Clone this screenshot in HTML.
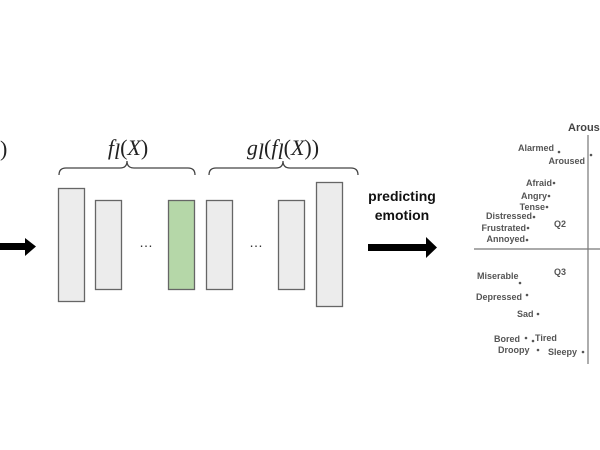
<!DOCTYPE html>
<html><head><style>
body{margin:0;background:#fff;}
svg{display:block}
.e{font-family:"Liberation Sans",sans-serif;font-weight:bold;font-size:9px;fill:#555;}
.m{font-family:"Liberation Serif",serif;font-style:italic;font-size:22px;fill:#222;}
.p{font-family:"Liberation Serif",serif;font-size:22px;fill:#222;}
</style></head><body>
<svg width="600" height="450" viewBox="0 0 600 450">
<text x="0" y="156" class="p">)</text>
<rect x="0" y="243" width="27" height="7" fill="#000"/>
<polygon points="25,238 36,246.5 25,256" fill="#000"/>
<path d="M59,175 Q59,168 66,168 L120,168 Q127,168 127,161 Q127,168 134,168 L188,168 Q195,168 195,175" fill="none" stroke="#444" stroke-width="1.3"/>
<path d="M209,175 Q209,168 216,168 L276,168 Q283,168 283,161 Q283,168 290,168 L351,168 Q358,168 358,175" fill="none" stroke="#444" stroke-width="1.3"/>
<text x="128" y="155" text-anchor="middle"><tspan class="m">f</tspan><tspan class="m" font-size="14" dy="4">l</tspan><tspan class="p" dy="-4">(</tspan><tspan class="m">X</tspan><tspan class="p">)</tspan></text>
<text x="283" y="155" text-anchor="middle"><tspan class="m">g</tspan><tspan class="m" font-size="14" dy="4">l</tspan><tspan class="p" dy="-4">(</tspan><tspan class="m">f</tspan><tspan class="m" font-size="14" dy="4">l</tspan><tspan class="p" dy="-4">(</tspan><tspan class="m">X</tspan><tspan class="p">))</tspan></text>
<g stroke="#666" stroke-width="1.3" fill="#ececec">
<rect x="58.5" y="188.5" width="26" height="113"/>
<rect x="95.5" y="200.5" width="26" height="89"/>
<rect x="168.5" y="200.5" width="26" height="89" fill="#b5d7a8"/>
<rect x="206.5" y="200.5" width="26" height="89"/>
<rect x="278.5" y="200.5" width="26" height="89"/>
<rect x="316.5" y="182.5" width="26" height="124"/>
</g>
<text x="146" y="247" text-anchor="middle" font-family="Liberation Sans" font-size="14" fill="#333">…</text>
<text x="256" y="247" text-anchor="middle" font-family="Liberation Sans" font-size="14" fill="#333">…</text>
<text x="402" y="201" text-anchor="middle" font-family="Liberation Sans" font-weight="bold" font-size="14" fill="#111">predicting</text>
<text x="402" y="220" text-anchor="middle" font-family="Liberation Sans" font-weight="bold" font-size="14" fill="#111">emotion</text>
<rect x="368" y="244" width="59" height="7" fill="#000"/>
<polygon points="426,237 437,247.5 426,258" fill="#000"/>
<line x1="588" y1="135" x2="588" y2="364" stroke="#777" stroke-width="1.2"/>
<line x1="474" y1="249" x2="600" y2="249" stroke="#777" stroke-width="1.2"/>
<text x="568" y="131" font-family="Liberation Sans" font-weight="bold" font-size="11" fill="#444">Arousal</text>
<g class="e">
<text x="554" y="151" text-anchor="end">Alarmed</text><circle cx="559" cy="152" r="1.3" fill="#555"/>
<text x="585" y="164" text-anchor="end">Aroused</text><circle cx="591" cy="155" r="1.3" fill="#555"/>
<text x="552" y="186" text-anchor="end">Afraid</text><circle cx="554" cy="183" r="1.3" fill="#555"/>
<text x="547" y="199" text-anchor="end">Angry</text><circle cx="549" cy="196" r="1.3" fill="#555"/>
<text x="545" y="210" text-anchor="end">Tense</text><circle cx="547" cy="207" r="1.3" fill="#555"/>
<text x="532" y="219" text-anchor="end">Distressed</text><circle cx="534" cy="217" r="1.3" fill="#555"/>
<text x="526" y="231" text-anchor="end">Frustrated</text><circle cx="528" cy="228" r="1.3" fill="#555"/>
<text x="525" y="242" text-anchor="end">Annoyed</text><circle cx="527" cy="240" r="1.3" fill="#555"/>
<text x="554" y="227">Q2</text>
<text x="554" y="275">Q3</text>
<text x="477" y="279">Miserable</text><circle cx="520" cy="283" r="1.3" fill="#555"/>
<text x="476" y="300">Depressed</text><circle cx="527" cy="295" r="1.3" fill="#555"/>
<text x="517" y="317">Sad</text><circle cx="538" cy="314" r="1.3" fill="#555"/>
<text x="494" y="342">Bored</text><circle cx="526" cy="338" r="1.3" fill="#555"/>
<circle cx="533" cy="341" r="1.3" fill="#555"/><text x="535" y="341">Tired</text>
<text x="498" y="353">Droopy</text><circle cx="538" cy="350" r="1.3" fill="#555"/>
<text x="548" y="355">Sleepy</text><circle cx="583" cy="352" r="1.3" fill="#555"/>
</g>
</svg>
</body></html>
